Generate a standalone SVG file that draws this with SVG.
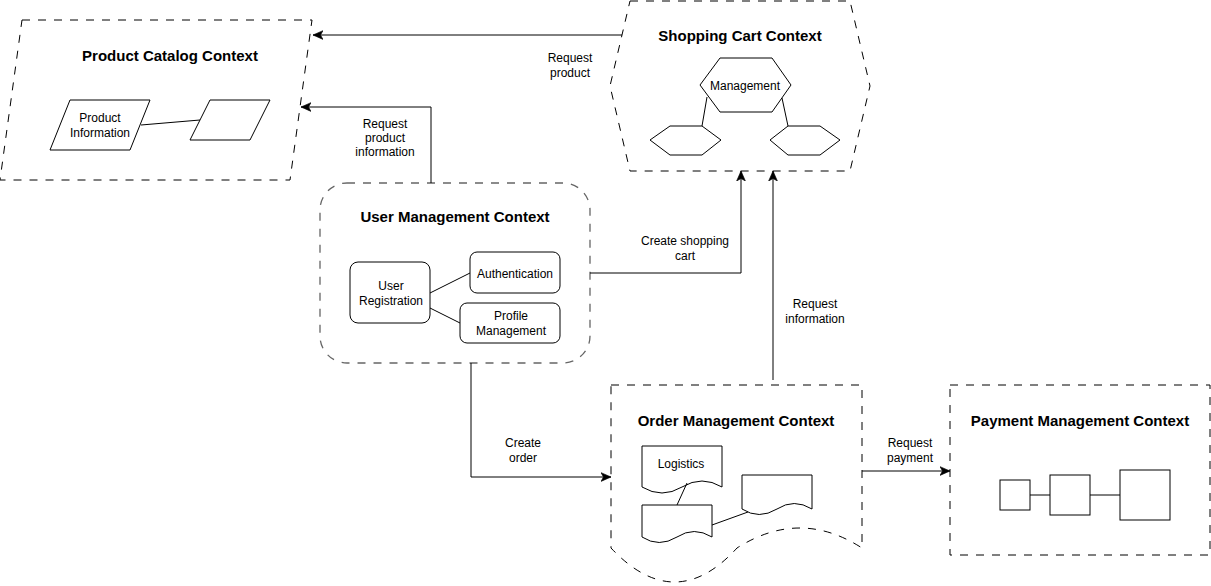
<svg xmlns="http://www.w3.org/2000/svg" width="1211" height="586" viewBox="0 0 1211 586">
<defs>
<style>
.ctx{fill:#fff;stroke:#000;stroke-width:1;stroke-dasharray:8 8}
.ctxg{fill:#fff;stroke:#666;stroke-width:1.3;stroke-dasharray:8 8}
.n{fill:#fff;stroke:#000;stroke-width:1}
.ln{fill:none;stroke:#000;stroke-width:1}
.e{fill:none;stroke:#000;stroke-width:1;marker-end:url(#arr)}
.t{font-family:"Liberation Sans",Arial,sans-serif;font-size:12px;fill:#000;text-anchor:middle}
.h{font-family:"Liberation Sans",Arial,sans-serif;font-size:15px;font-weight:bold;fill:#000;text-anchor:middle}
</style>
<marker id="arr" markerUnits="userSpaceOnUse" markerWidth="10" markerHeight="10" viewBox="0 0 8 7" refX="8" refY="3.5" orient="auto">
<path d="M0,0 L8,3.5 L0,7 L2,3.5 Z" fill="#000" stroke="#000" stroke-width="0.5"/>
</marker>
</defs>
<rect width="1211" height="586" fill="#fff"/>

<g id="product-catalog">
<polygon class="ctx" points="22,20 312,20 290,180 0,180"/>
<text class="h" x="170" y="61">Product Catalog Context</text>
<polygon class="n" points="70,100 150,100 130,150 50,150"/>
<text class="t" x="100" y="122">Product</text>
<text class="t" x="100" y="137">Information</text>
<polygon class="n" points="210,100 270,100 250,140 190,140"/>
<line class="ln" x1="141" y1="125" x2="200" y2="120"/>
</g>

<g id="shopping-cart">
<polygon class="ctx" points="630,1 850,1 870,86 850,171 630,171 610,86"/>
<text class="h" x="740" y="41">Shopping Cart Context</text>
<polygon class="n" points="720,58 772,58 791,85 772,112 720,112 700,85"/>
<text class="t" x="745" y="90">Management</text>
<polygon class="n" points="670,126 702,126 721,140 702,155 670,155 650,140"/>
<polygon class="n" points="788,126 820,126 840,140 820,155 788,155 770,140"/>
<line class="ln" x1="707" y1="97" x2="702" y2="126"/>
<line class="ln" x1="782" y1="98" x2="788" y2="126"/>
</g>

<g id="user-management">
<rect class="ctxg" x="320" y="183" width="270" height="180" rx="27" ry="27"/>
<text class="h" x="455" y="222">User Management Context</text>
<rect class="n" x="350" y="262" width="80" height="61" rx="8" ry="8"/>
<text class="t" x="391" y="290">User</text>
<text class="t" x="391" y="305">Registration</text>
<rect class="n" x="470" y="252" width="90" height="41" rx="7" ry="7"/>
<text class="t" x="515" y="278">Authentication</text>
<rect class="n" x="460" y="303" width="100" height="40" rx="7" ry="7"/>
<text class="t" x="511" y="320">Profile</text>
<text class="t" x="511" y="335">Management</text>
<line class="ln" x1="430" y1="293" x2="470" y2="273"/>
<line class="ln" x1="430" y1="308" x2="460" y2="323"/>
</g>

<g id="order-management">
<path class="ctx" d="M611,385 H862 V548 Q800,508 737,548 Q675,616 611,548 Z"/>
<text class="h" x="736" y="426">Order Management Context</text>
<path class="n" d="M642,446 H722 V487 Q702,475 682,487 Q662,499 642,487 Z"/>
<text class="t" x="681" y="468">Logistics</text>
<path class="n" d="M642,505 H712 V537 Q694,526 677,537 Q659,548 642,537 Z"/>
<path class="n" d="M742,475 H812 V509 Q794,498 777,509 Q759,520 742,509 Z"/>
<line class="ln" x1="687" y1="483" x2="677" y2="505"/>
<line class="ln" x1="712" y1="525" x2="748" y2="512"/>
</g>

<g id="payment-management">
<rect class="ctx" x="950" y="385" width="260" height="170"/>
<text class="h" x="1080" y="426">Payment Management Context</text>
<rect class="n" x="1000" y="480" width="30" height="30"/>
<rect class="n" x="1050" y="475" width="40" height="40"/>
<rect class="n" x="1120" y="470" width="50" height="50"/>
<line class="ln" x1="1030" y1="495" x2="1050" y2="495"/>
<line class="ln" x1="1090" y1="495" x2="1120" y2="495"/>
</g>

<g id="connectors">
<path class="e" d="M622,35 H313"/>
<text class="t" x="570" y="62">Request</text>
<text class="t" x="570" y="77">product</text>
<path class="e" d="M431,183 V107 H301"/>
<text class="t" x="385" y="128">Request</text>
<text class="t" x="385" y="142">product</text>
<text class="t" x="385" y="156">information</text>
<path class="e" d="M590,273 H741 V171"/>
<text class="t" x="685" y="245">Create shopping</text>
<text class="t" x="685" y="260">cart</text>
<path class="e" d="M773,380 V171"/>
<text class="t" x="815" y="308">Request</text>
<text class="t" x="815" y="323">information</text>
<path class="e" d="M471,363 V477 H611"/>
<text class="t" x="523" y="447">Create</text>
<text class="t" x="523" y="462">order</text>
<path class="e" d="M862,471 H950"/>
<text class="t" x="910" y="447">Request</text>
<text class="t" x="910" y="462">payment</text>
</g>
</svg>
